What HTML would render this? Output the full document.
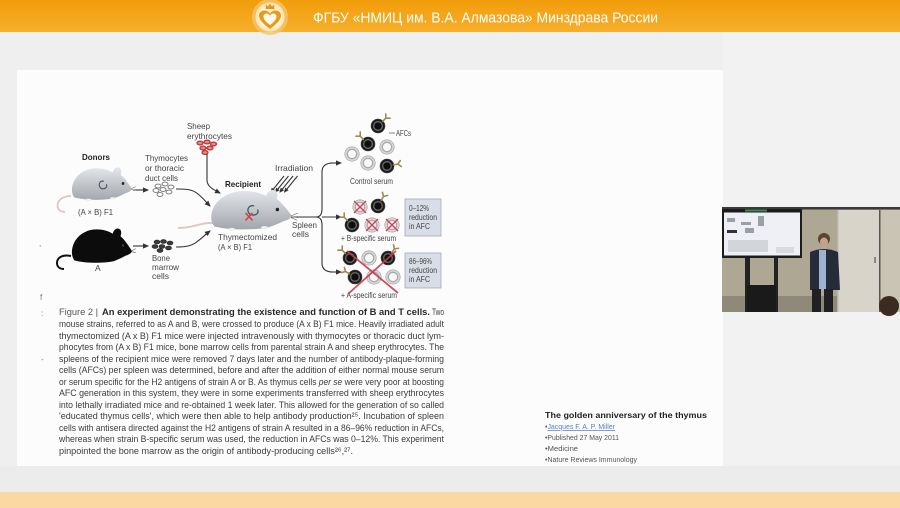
<!DOCTYPE html>
<html><head><meta charset="utf-8"><style>
html,body{margin:0;padding:0;background:#efefef;}
svg{display:block;}
</style></head><body>
<svg width="900" height="508" viewBox="0 0 900 508" xmlns="http://www.w3.org/2000/svg" xmlns:xlink="http://www.w3.org/1999/xlink" font-family="'Liberation Sans', sans-serif">
<defs>
<linearGradient id="hdr" x1="0" y1="0" x2="0" y2="1"><stop offset="0" stop-color="#f29d0a"/><stop offset="1" stop-color="#f6af2c"/></linearGradient>
<linearGradient id="mg" x1="0" y1="0" x2="0" y2="1"><stop offset="0" stop-color="#e3e6ea"/><stop offset="1" stop-color="#a3a7ad"/></linearGradient>
<marker id="ar" markerUnits="userSpaceOnUse" markerWidth="6" markerHeight="6" refX="5" refY="3" orient="auto"><path d="M0,0.4 L6,3 L0,5.6 z" fill="#333"/></marker>
<marker id="ar2" markerUnits="userSpaceOnUse" markerWidth="5" markerHeight="5" refX="4" refY="2.5" orient="auto"><path d="M0,0.3 L5,2.5 L0,4.7 z" fill="#333"/></marker>
<path id="m" d="M10,44 C2,36 6,16 26,8 C40,2 58,4 70,10 C71,4 78,1 82,5 C84,8 83,11 82,13 C89,18 95,26 100,32 C99,35 95,37 90,38 C84,41 78,43 72,45 C55,48 28,48 10,44 Z"/>
<g id="dk"><circle r="7" fill="#1c1c1c" stroke="#444" stroke-width=".6"/><circle r="4.3" fill="#0e0e0e" stroke="#6a6a6a" stroke-width="1.3"/></g>
<g id="lt"><circle r="7.2" fill="#dadada" stroke="#9a9a9a" stroke-width=".6"/><circle r="4.7" fill="#f8f8f8" stroke="#aaa" stroke-width="1.3"/></g>
<g id="cx"><circle r="7.2" fill="#e2d6d8" stroke="#a09a9a" stroke-width=".6"/><circle r="4.7" fill="#f2ecec" stroke="#b4a8a8" stroke-width="1.3"/><path d="M-6,-6 L6,6 M6,-6 L-6,6" stroke="#c8405a" stroke-width="1.3"/></g>
<path id="ab" d="M0,0 L0,-4.5 M0,-4.5 L-3,-7.5 M0,-4.5 L3,-7.5" stroke="#9c8b55" stroke-width="1.6" fill="none" stroke-linecap="round"/>
</defs>

<rect x="0" y="0" width="900" height="508" fill="#efefef"/>
<rect x="723" y="32" width="177" height="460" fill="#f2f2f2"/>
<rect x="17" y="70" width="706" height="396" fill="#fcfcfc"/>
<rect x="0" y="466" width="900" height="26" fill="#ececec"/>
<rect x="0" y="492" width="900" height="16" fill="#fbd8a2"/>

<rect x="0" y="0" width="900" height="32" fill="url(#hdr)"/>
<circle cx="270" cy="17" r="18" fill="#f7c46a" opacity=".8"/>
<circle cx="270" cy="17" r="14.5" fill="#fbe6b8"/>
<circle cx="270" cy="17" r="12" fill="#fff3da"/>
<path d="M270,29 C262,23 259,19 259,15.5 C259,12 262,10.5 264.5,10.5 C267,10.5 269,12 270,13.5 C271,12 273,10.5 275.5,10.5 C278,10.5 281,12 281,15.5 C281,19 278,23 270,29 Z" fill="#ea9a16"/>
<path d="M270,25 C265,21.5 263.5,19 263.5,16.5 C263.5,14.5 265,13.5 266.5,13.5 C268,13.5 269.3,14.5 270,15.8 C270.7,14.5 272,13.5 273.5,13.5 C275,13.5 276.5,14.5 276.5,16.5 C276.5,19 275,21.5 270,25 Z" fill="#fff8ea"/>
<path d="M265.5,9 L266,4.5 L268,6.5 L270,3.5 L272,6.5 L274,4.5 L274.5,9 Z" fill="#e8950f"/>
<text x="313" y="22.5" font-size="15" fill="#ffffff" textLength="345" lengthAdjust="spacingAndGlyphs" font-family="'Liberation Sans Narrow','Liberation Sans',sans-serif">ФГБУ «НМИЦ им. В.А. Алмазова» Минздрава России</text>

<g fill="#777" font-size="8">
<text x="39" y="246">,</text>
<text x="40" y="300">f</text>
<text x="41" y="316">:</text>
<text x="41" y="362">-</text>
</g>

<g fill="#444" font-size="8.5">
<text x="187" y="129" textLength="23" lengthAdjust="spacingAndGlyphs">Sheep</text>
<text x="187" y="139" textLength="45" lengthAdjust="spacingAndGlyphs">erythrocytes</text>
<text x="82" y="160" textLength="28" lengthAdjust="spacingAndGlyphs" font-weight="bold" fill="#222">Donors</text>
<text x="145" y="161" textLength="43" lengthAdjust="spacingAndGlyphs">Thymocytes</text>
<text x="145" y="171" textLength="39" lengthAdjust="spacingAndGlyphs">or thoracic</text>
<text x="145" y="181" textLength="33" lengthAdjust="spacingAndGlyphs">duct cells</text>
<text x="275" y="171" textLength="38" lengthAdjust="spacingAndGlyphs">Irradiation</text>
<text x="225" y="187" textLength="36" lengthAdjust="spacingAndGlyphs" font-weight="bold" fill="#222">Recipient</text>
<text x="78" y="215" textLength="35" lengthAdjust="spacingAndGlyphs">(A × B) F1</text>
<text x="218" y="240" textLength="59" lengthAdjust="spacingAndGlyphs">Thymectomized</text>
<text x="218" y="250" textLength="34" lengthAdjust="spacingAndGlyphs">(A × B) F1</text>
<text x="292" y="228" textLength="25" lengthAdjust="spacingAndGlyphs">Spleen</text>
<text x="292" y="237" textLength="17" lengthAdjust="spacingAndGlyphs">cells</text>
<text x="95" y="271">A</text>
<text x="152" y="261" textLength="18" lengthAdjust="spacingAndGlyphs">Bone</text>
<text x="152" y="270" textLength="27" lengthAdjust="spacingAndGlyphs">marrow</text>
<text x="152" y="279" textLength="17" lengthAdjust="spacingAndGlyphs">cells</text>
<text x="396" y="136" textLength="15" lengthAdjust="spacingAndGlyphs">AFCs</text>
<text x="350" y="184" textLength="43" lengthAdjust="spacingAndGlyphs">Control serum</text>
<text x="341" y="241" textLength="55" lengthAdjust="spacingAndGlyphs">+ B-specific serum</text>
<text x="341" y="298" textLength="56" lengthAdjust="spacingAndGlyphs">+ A-specific serum</text>
</g>

<g fill="#e58a8a" stroke="#b83a3a" stroke-width="1.3">
<ellipse cx="200" cy="143" rx="3" ry="1.9"/><ellipse cx="207" cy="142" rx="3" ry="1.9"/><ellipse cx="213.5" cy="144" rx="3" ry="1.9"/>
<ellipse cx="203" cy="148" rx="3" ry="1.9"/><ellipse cx="210" cy="148" rx="3" ry="1.9"/><ellipse cx="205" cy="152.5" rx="3" ry="1.9"/>
</g>
<g fill="#fff" stroke="#777" stroke-width=".9">
<ellipse cx="158" cy="186" rx="3" ry="1.9"/><ellipse cx="165" cy="184" rx="3" ry="1.9"/><ellipse cx="171" cy="187" rx="3" ry="1.9"/>
<ellipse cx="156" cy="190.5" rx="3" ry="1.9"/><ellipse cx="163" cy="189.5" rx="3" ry="1.9"/><ellipse cx="169" cy="192" rx="3" ry="1.9"/><ellipse cx="160" cy="194.5" rx="3" ry="1.9"/>
</g>
<g fill="#3a3a3a" stroke="#222" stroke-width=".6">
<ellipse cx="157" cy="242" rx="3" ry="1.9"/><ellipse cx="163.5" cy="241.5" rx="3" ry="1.9"/><ellipse cx="170" cy="243" rx="3" ry="1.9"/>
<ellipse cx="155" cy="246.5" rx="3" ry="1.9"/><ellipse cx="162" cy="246.5" rx="3" ry="1.9"/><ellipse cx="168.5" cy="248" rx="3" ry="1.9"/><ellipse cx="160" cy="250.5" rx="3" ry="1.9"/>
</g>

<g stroke="#333" stroke-width="1.1" fill="none">
<path d="M133,190 L148,190" marker-end="url(#ar)"/>
<path d="M133,246 L148,246" marker-end="url(#ar)"/>
<path d="M176,189 C186,189 192,189 198,194 C203,198 206,202 210,206" marker-end="url(#ar)"/>
<path d="M176,247 C186,247 192,246 198,241 C203,237 206,234 210,231" marker-end="url(#ar)"/>
<path d="M207,154 L207,180 C207,186 212,189 220,193" marker-end="url(#ar)"/>
<path d="M284,176 L271,192" marker-end="url(#ar2)"/>
<path d="M288.5,176 L275.5,192" marker-end="url(#ar2)"/>
<path d="M293,176 L280,192" marker-end="url(#ar2)"/>
<path d="M297.5,176 L284.5,192" marker-end="url(#ar2)"/>
<path d="M291,217 L317,217"/>
<path d="M333,163 Q322,163 322,172 L322,209 Q322,217 316,217 Q322,217 322,225 L322,263 Q322,272 333,272"/>
<path d="M330,163 L341,163" marker-end="url(#ar)"/>
<path d="M322,217 L341,217" marker-end="url(#ar)"/>
<path d="M330,272 L341,272" marker-end="url(#ar)"/>
<path d="M389,133 L395,133" stroke="#666" stroke-width=".8"/>
</g>

<path d="M71,196 C61,196 56,202 58,208 C59,211 62,212 65,212" stroke="#dcc8c2" stroke-width="1.8" fill="none"/>
<g transform="translate(68,165) scale(0.64,0.74)">
<use xlink:href="#m" fill="url(#mg)"/>
<path d="M56,22 C48,20 46,30 53,32 C58,33 62,30 60,26" stroke="#4a4f58" stroke-width="1.6" fill="none"/>
<circle cx="86" cy="25" r="2" fill="#222"/>
<ellipse cx="32" cy="47" rx="4" ry="1.6" fill="#eee"/><ellipse cx="70" cy="45" rx="4" ry="1.6" fill="#eee"/>
<path d="M99,32 L106,29 M99,33 L106,34" stroke="#777" stroke-width=".8"/>
</g>

<path d="M71,256 C62,254 57,258 57,263 C57,267 60,269 64,269" stroke="#111" stroke-width="2" fill="none"/>
<g transform="translate(68,226) scale(0.64,0.78)">
<use xlink:href="#m" fill="#0c0c0c"/>
<circle cx="86" cy="25" r="1.6" fill="#444"/>
<path d="M99,32 L106,29 M99,33 L106,34" stroke="#555" stroke-width=".8"/>
</g>

<path d="M213,223 C202,222 194,228 178,228" stroke="#dcc8c2" stroke-width="2" fill="none"/>
<g transform="translate(206,187) scale(0.86,0.9)">
<use xlink:href="#m" fill="url(#mg)"/>
<path d="M56,21 C48,19 46,29 53,31 C58,32 62,29 60,25" stroke="#3d5a66" stroke-width="1.5" fill="none"/>
<path d="M46,29 L54,37 M54,29 L46,37" stroke="#d0404a" stroke-width="1.8"/>
<circle cx="83" cy="25" r="2" fill="#222"/>
<ellipse cx="30" cy="47" rx="4" ry="1.6" fill="#eee"/><ellipse cx="68" cy="45" rx="4" ry="1.6" fill="#eee"/>
<path d="M99,32 L107,29 M99,33 L107,34 M99,34 L106,37" stroke="#777" stroke-width=".8"/>
</g>

<use xlink:href="#lt" x="387" y="147"/>
<use xlink:href="#lt" x="352" y="154"/>
<use xlink:href="#lt" x="368" y="163"/>
<use xlink:href="#dk" x="378" y="126"/>
<use xlink:href="#dk" x="368" y="144"/>
<use xlink:href="#dk" x="387" y="166"/>
<use xlink:href="#ab" transform="translate(378,126) rotate(45) translate(0,-6.5)"/>
<use xlink:href="#ab" transform="translate(368,144) rotate(-45) translate(0,-6.5)"/>
<use xlink:href="#ab" transform="translate(387,166) rotate(80) translate(0,-6.5)"/>

<use xlink:href="#cx" x="360" y="207"/>
<use xlink:href="#dk" x="378" y="206"/>
<use xlink:href="#dk" x="352" y="225"/>
<use xlink:href="#cx" x="372" y="225"/>
<use xlink:href="#cx" x="392" y="225"/>
<use xlink:href="#ab" transform="translate(378,206) rotate(30) translate(0,-6.5)"/>
<use xlink:href="#ab" transform="translate(352,225) rotate(-45) translate(0,-6.5)"/>
<rect x="405" y="199" width="36" height="37" fill="#d9dde7" stroke="#a3a9b5" stroke-width=".8"/>
<g fill="#444" font-size="8.3">
<text x="409" y="211" textLength="20" lengthAdjust="spacingAndGlyphs">0–12%</text>
<text x="409" y="220" textLength="28" lengthAdjust="spacingAndGlyphs">reduction</text>
<text x="409" y="229" textLength="21" lengthAdjust="spacingAndGlyphs">in AFC</text>
</g>

<use xlink:href="#lt" x="369" y="258"/>
<use xlink:href="#lt" x="374" y="277"/>
<use xlink:href="#lt" x="393" y="277"/>
<use xlink:href="#dk" x="350" y="258"/>
<use xlink:href="#dk" x="388" y="258"/>
<use xlink:href="#dk" x="355" y="277"/>
<use xlink:href="#ab" transform="translate(350,258) rotate(-45) translate(0,-6.5)"/>
<use xlink:href="#ab" transform="translate(388,258) rotate(35) translate(0,-6.5)"/>
<use xlink:href="#ab" transform="translate(355,277) rotate(-60) translate(0,-6.5)"/>
<path d="M347,251 L398,293 M396,251 L348,294" stroke="#c83a50" stroke-width="1.8" opacity=".9"/>
<rect x="405" y="253" width="36" height="35" fill="#d9dde7" stroke="#a3a9b5" stroke-width=".8"/>
<g fill="#444" font-size="8.3">
<text x="409" y="264" textLength="23" lengthAdjust="spacingAndGlyphs">86–96%</text>
<text x="409" y="273" textLength="28" lengthAdjust="spacingAndGlyphs">reduction</text>
<text x="409" y="282" textLength="21" lengthAdjust="spacingAndGlyphs">in AFC</text>
</g>

<g font-size="9.2" fill="#3c3c3c">
<text x="59" y="315" textLength="39" lengthAdjust="spacingAndGlyphs" fill="#555">Figure 2 |</text>
<text x="102" y="315" textLength="328" lengthAdjust="spacingAndGlyphs" font-weight="bold" fill="#2a2a2a">An experiment demonstrating the existence and function of B and T cells.</text>
<text x="432" y="315" textLength="12" lengthAdjust="spacingAndGlyphs">Two</text>
<text x="59" y="327" textLength="385" lengthAdjust="spacingAndGlyphs">mouse strains, referred to as A and B, were crossed to produce (A x B) F1 mice. Heavily irradiated adult</text>
<text x="59" y="339" textLength="385" lengthAdjust="spacingAndGlyphs">thymectomized (A x B) F1 mice were injected intravenously with thymocytes or thoracic duct lym-</text>
<text x="59" y="350" textLength="385" lengthAdjust="spacingAndGlyphs">phocytes from (A x B) F1 mice, bone marrow cells from parental strain A and sheep erythrocytes. The</text>
<text x="59" y="362" textLength="385" lengthAdjust="spacingAndGlyphs">spleens of the recipient mice were removed 7 days later and the number of antibody-plaque-forming</text>
<text x="59" y="373" textLength="385" lengthAdjust="spacingAndGlyphs">cells (AFCs) per spleen was determined, before and after the addition of either normal mouse serum</text>
<text x="59" y="385" textLength="385" lengthAdjust="spacingAndGlyphs">or serum specific for the H2 antigens of strain A or B. As thymus cells <tspan font-style="italic">per se</tspan> were very poor at boosting</text>
<text x="59" y="396" textLength="385" lengthAdjust="spacingAndGlyphs">AFC generation in this system, they were in some experiments transferred with sheep erythrocytes</text>
<text x="59" y="408" textLength="385" lengthAdjust="spacingAndGlyphs">into lethally irradiated mice and re-obtained 1 week later. This allowed for the generation of so called</text>
<text x="59" y="419" textLength="385" lengthAdjust="spacingAndGlyphs">'educated thymus cells', which were then able to help antibody production²⁵. Incubation of spleen</text>
<text x="59" y="431" textLength="385" lengthAdjust="spacingAndGlyphs">cells with antisera directed against the H2 antigens of strain A resulted in a 86–96% reduction in AFCs,</text>
<text x="59" y="442" textLength="385" lengthAdjust="spacingAndGlyphs">whereas when strain B-specific serum was used, the reduction in AFCs was 0–12%. This experiment</text>
<text x="59" y="454" textLength="294" lengthAdjust="spacingAndGlyphs">pinpointed the bone marrow as the origin of antibody-producing cells²⁶,²⁷.</text>
</g>

<text x="545" y="418" font-size="8.3" font-weight="bold" fill="#222" textLength="162" lengthAdjust="spacingAndGlyphs">The golden anniversary of the thymus</text>
<g font-size="7.5" fill="#555">
<text x="545" y="429" textLength="70" lengthAdjust="spacingAndGlyphs">•<tspan fill="#5a7fc0" text-decoration="underline">Jacques F. A. P. Miller</tspan></text>
<text x="545" y="440" textLength="74" lengthAdjust="spacingAndGlyphs">•Published 27 May 2011</text>
<text x="545" y="451" textLength="33" lengthAdjust="spacingAndGlyphs">•Medicine</text>
<text x="545" y="462" textLength="92" lengthAdjust="spacingAndGlyphs">•Nature Reviews Immunology</text>
</g>

<rect x="722" y="207" width="178" height="105" fill="#aea794"/>
<rect x="722" y="296" width="178" height="16" fill="#8f897a"/>
<rect x="722" y="207" width="178" height="2.5" fill="#3a3a3a"/>
<rect x="722" y="209" width="80" height="49" fill="#1c1c1c"/>
<rect x="724" y="212.5" width="76" height="43" fill="#eef0f5"/>
<rect x="745" y="209.5" width="22" height="2" fill="#3c8a5a"/>
<g fill="#9aa0a8"><rect x="727" y="218" width="8" height="4"/><rect x="741" y="222" width="10" height="3"/><rect x="758" y="216" width="6" height="10"/><rect x="727" y="230" width="10" height="3" fill="#333"/><rect x="745" y="228" width="9" height="5"/><rect x="728" y="240" width="40" height="12" fill="#d2d5da"/><rect x="776" y="247" width="18" height="6" fill="#d8dade"/></g>
<rect x="745" y="258" width="5" height="54" fill="#222"/>
<rect x="774" y="258" width="4" height="54" fill="#222"/>
<rect x="747" y="285" width="29" height="27" fill="#1a1a1a"/>
<rect x="837" y="210" width="43" height="102" fill="#d8d4c9"/>
<rect x="837" y="210" width="1.5" height="102" fill="#bdb7a8"/>
<rect x="880" y="210" width="20" height="102" fill="#cac4b5"/>
<rect x="879" y="210" width="1.5" height="102" fill="#555"/>
<rect x="874" y="257" width="2" height="6" fill="#888"/>
<circle cx="824" cy="239" r="6" fill="#5a4634"/>
<ellipse cx="824" cy="242" rx="4" ry="4.5" fill="#c9a08a"/>
<path d="M810,252 Q824,246 838,252 L840,290 L810,290 Z" fill="#262b3a"/>
<rect x="819" y="250" width="7" height="40" fill="#9fb3cf"/>
<rect x="812" y="289" width="9" height="23" fill="#1f1f24"/>
<rect x="824" y="289" width="9" height="23" fill="#1f1f24"/>
<circle cx="889" cy="306" r="10" fill="#3b2b20"/>
</svg>
</body></html>
